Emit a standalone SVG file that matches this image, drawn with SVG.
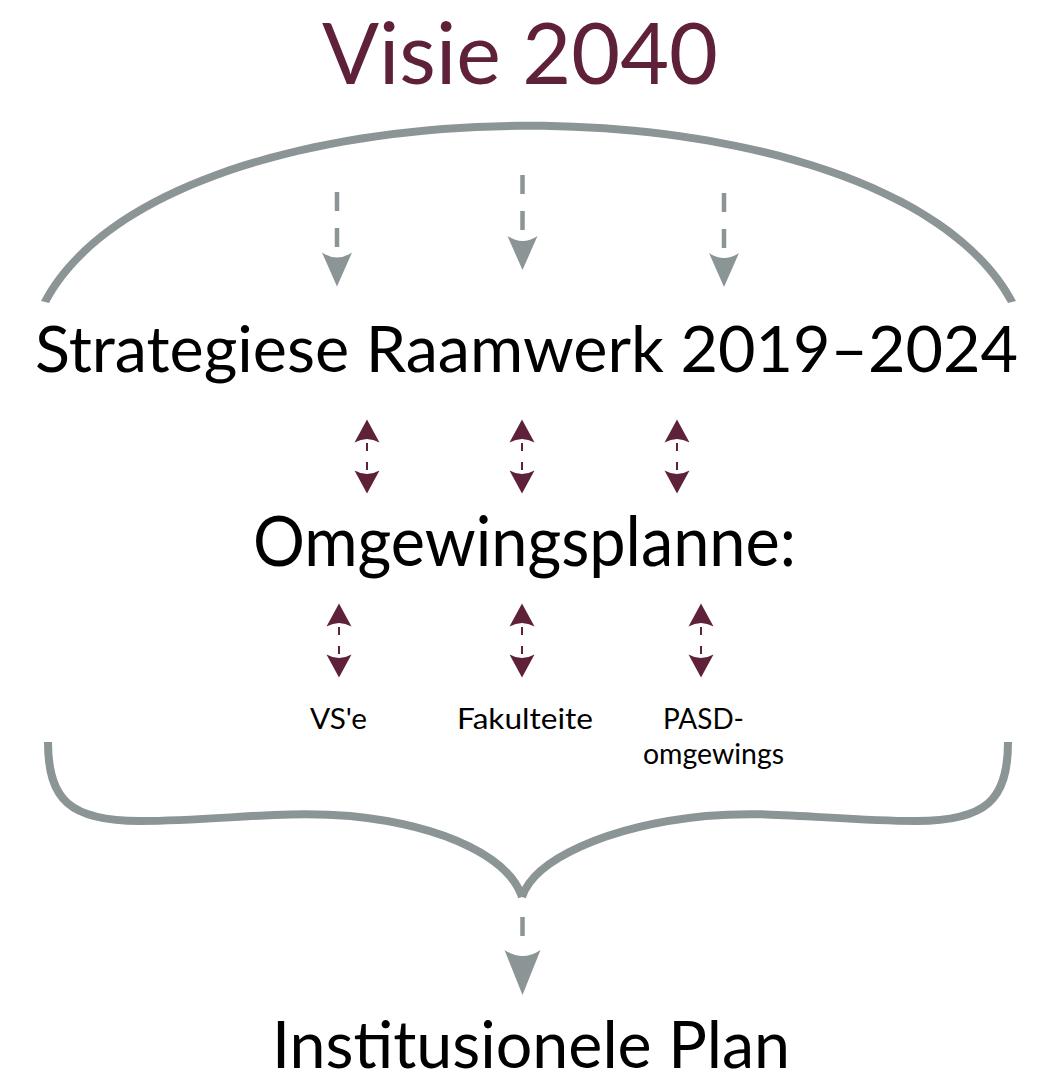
<svg xmlns="http://www.w3.org/2000/svg" width="1047" height="1087" viewBox="0 0 1047 1087">
  <style>
    .t { font-family: Lato, "Noto Sans", "Liberation Sans", sans-serif; fill: #000; }
    .title { fill: #5e2139; }
    .small { font-size: 29px; }
    .gdash { stroke: #8c9596; stroke-width: 4.5; stroke-dasharray: 19 17; fill: none; }
    .mdash { stroke: #5e2139; stroke-width: 2; stroke-dasharray: 8 11; fill: none; }
    .gshape { fill: #8c9596; }
    .gline { stroke: #8c9596; stroke-width: 8; fill: none; stroke-linecap: butt; }
  </style>
  <defs>
    <path id="gHead" d="M-15,0 Q0,10 15,0 L0,34 Z" fill="#8c9596"/>
    <path id="gHeadBig" d="M-18,0 Q0,12 18,0 L0,45 Z" fill="#8c9596"/>
    <path id="mDown" d="M-12.5,0 Q0,7 12.5,0 L0,23 Z" fill="#5e2139"/>
    <path id="mUp" d="M-12.5,0 Q0,-7 12.5,0 L0,-23 Z" fill="#5e2139"/>
  </defs>

  <g id="visie">
    <text class="t title" x="322" y="84" font-size="85" textLength="396" lengthAdjust="spacingAndGlyphs">Visie 2040</text>
  </g>

  <g id="strategiese">
    <text class="t" x="35" y="372" font-size="64" textLength="983" lengthAdjust="spacingAndGlyphs">Strategiese Raamwerk 2019–2024</text>
  </g>

  <g id="omgewingsplanne">
    <text class="t" x="253" y="566" font-size="70" textLength="543" lengthAdjust="spacingAndGlyphs">Omgewingsplanne:</text>
  </g>

  <g id="vse">
    <text class="t small" x="310" y="729" textLength="57" lengthAdjust="spacingAndGlyphs">VS'e</text>
  </g>
  <g id="fakulteite">
    <text class="t small" x="457" y="729" textLength="136" lengthAdjust="spacingAndGlyphs">Fakulteite</text>
  </g>
  <g id="pasd">
    <text class="t small" x="663" y="729" textLength="81" lengthAdjust="spacingAndGlyphs">PASD-</text>
    <text class="t small" x="643" y="764" textLength="141" lengthAdjust="spacingAndGlyphs">omgewings</text>
  </g>

  <g id="institusionele">
    <text class="t" x="272" y="1068" font-size="66" textLength="518" lengthAdjust="spacingAndGlyphs">Institusionele Plan</text>
  </g>

  <g id="connectors">
    <!-- top arc -->
    <path class="gshape" d="M41,301 C166,62 890,62 1016,301 L1008,303 C884,72 172,72 49,303 Z"/>
    <!-- top gray arrows -->
    <line class="gdash" x1="337" y1="192" x2="337" y2="252"/>
    <use href="#gHead" x="337" y="252.5"/>
    <line class="gdash" x1="522.5" y1="175" x2="522.5" y2="236"/>
    <use href="#gHead" x="522.5" y="236"/>
    <line class="gdash" x1="724" y1="193" x2="724" y2="253"/>
    <use href="#gHead" x="724" y="253"/>

    <!-- maroon double arrows row 1 -->
    <line class="mdash" x1="367" y1="443" x2="367" y2="471"/>
    <use href="#mUp" x="367" y="442.5"/>
    <use href="#mDown" x="367" y="470.5"/>
    <line class="mdash" x1="522" y1="443" x2="522" y2="471"/>
    <use href="#mUp" x="522" y="442.5"/>
    <use href="#mDown" x="522" y="470.5"/>
    <line class="mdash" x1="677" y1="443" x2="677" y2="471"/>
    <use href="#mUp" x="677" y="442.5"/>
    <use href="#mDown" x="677" y="470.5"/>

    <!-- maroon double arrows row 2 -->
    <line class="mdash" x1="339" y1="627" x2="339" y2="655"/>
    <use href="#mUp" x="339" y="626.5"/>
    <use href="#mDown" x="339" y="654.5"/>
    <line class="mdash" x1="522" y1="627" x2="522" y2="655"/>
    <use href="#mUp" x="522" y="626.5"/>
    <use href="#mDown" x="522" y="654.5"/>
    <line class="mdash" x1="701" y1="627" x2="701" y2="655"/>
    <use href="#mUp" x="701" y="626.5"/>
    <use href="#mDown" x="701" y="654.5"/>

    <!-- bottom brace -->
    <path class="gline" d="M48,742 C48,800 70,821 140,821 C220,821 280,810 350,816 C450,826 510,860 522,897"/>
    <path class="gline" d="M1008,742 C1008,800 986,821 916,821 C836,821 776,810 706,816 C606,826 534,860 522,897"/>

    <!-- bottom gray arrow -->
    <line class="gdash" x1="522.5" y1="917" x2="522.5" y2="951" stroke-dasharray="13 13"/>
    <use href="#gHeadBig" x="522.5" y="950"/>
  </g>
</svg>
